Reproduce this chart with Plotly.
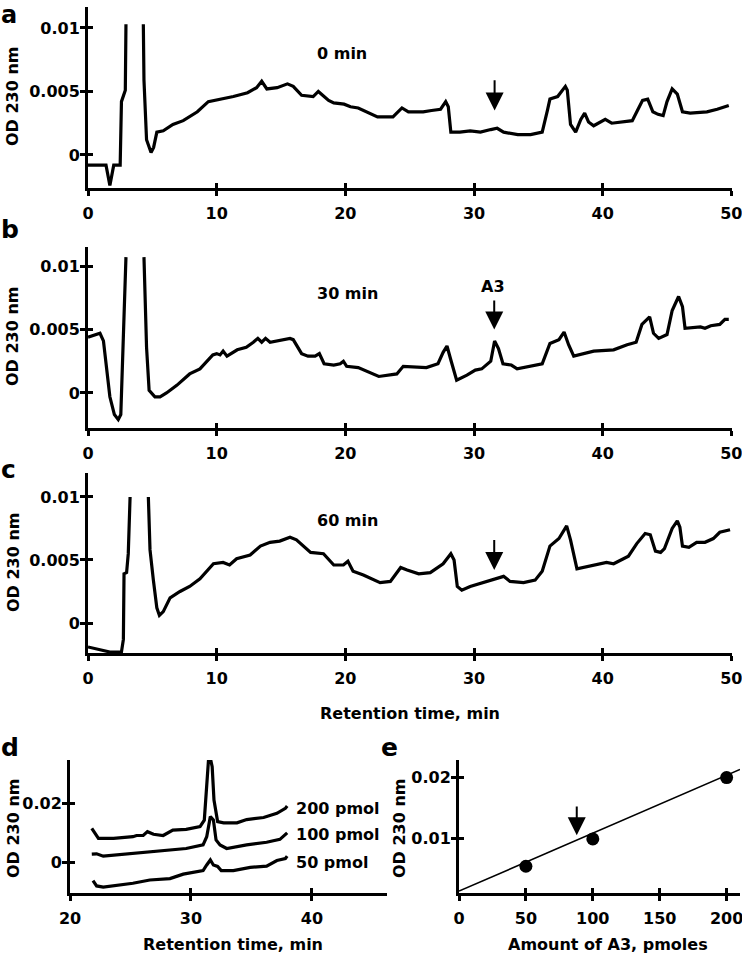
import plotly.graph_objects as go

W, H = 742, 955

# ---------------- data ----------------
# panel a: 0 min
a_time = [0, 1.4, 1.7, 2.0, 2.5, 2.6, 2.9, 2.95, None, 4.3,
          4.35, 4.55, 4.9, 5.1, 5.35, 5.85, 6.6, 7.4, 8.5, 9.35,
          10.3, 11.3, 12.4, 13.1, 13.5, 13.9, 14.7, 15.5, 15.95, 16.6,
          17.5, 17.9, 18.7, 19.1, 19.9, 20.4, 21.0, 21.9, 22.5, 23.7,
          24.4, 24.9, 26.05, 26.7, 27.4, 27.8, 28.0, 28.2, 28.9, 29.7,
          30.5, 31.3, 31.8, 32.3, 33.4, 34.4, 35.3, 35.7, 35.9, 36.5,
          37.1, 37.25, 37.5, 37.9, 38.3, 38.6, 38.9, 39.3, 40.2, 40.7,
          41.6, 42.3, 42.7, 43.1, 43.5, 43.9, 44.3, 44.7, 45.0, 45.4,
          45.8, 46.2, 46.8, 48.1, 48.9, 49.8]
a_od = [-0.0008, -0.0008, -0.0024, -0.0008, -0.0008, 0.0042, 0.0051, 0.0103, None, 0.0103,
        0.0059, 0.0012, 0.0002, 0.0006, 0.0018, 0.0019, 0.0024, 0.0027, 0.0034, 0.0042,
        0.0044, 0.0046, 0.0049, 0.0053, 0.0058, 0.0052, 0.0053, 0.0056, 0.0054, 0.0047,
        0.0046, 0.0050, 0.0043, 0.0041, 0.0040, 0.0038, 0.0037, 0.0033, 0.0030, 0.0030,
        0.0037, 0.0034, 0.0034, 0.0035, 0.0036, 0.0042, 0.0038, 0.0018, 0.0018, 0.0019,
        0.0018, 0.0020, 0.0021, 0.0018, 0.0016, 0.0016, 0.0018, 0.0035, 0.0044, 0.0046,
        0.0054, 0.0051, 0.0024, 0.0018, 0.0028, 0.0033, 0.0026, 0.0023, 0.0028, 0.0025,
        0.0026, 0.0027, 0.0035, 0.0043, 0.0044, 0.0034, 0.0032, 0.0031, 0.0042, 0.0052,
        0.0048, 0.0034, 0.0033, 0.0034, 0.0036, 0.0039]

# panel b: 30 min
b_time = [0, 0.55, 0.93, 1.2, 1.45, 1.7, 2.05, 2.35, 2.55, 2.7,
          2.8, 2.95, None, 4.35, 4.55, 4.75, 5.2, 5.6, 6.1, 6.9,
          7.9, 8.7, 9.35, 9.7, 10.0, 10.26, 10.5, 10.8, 11.6, 12.3,
          12.85, 13.2, 13.5, 13.8, 14.15, 15.7, 15.95, 16.6, 17.1, 17.65,
          17.98, 18.35, 19.1, 19.6, 19.85, 20.1, 21.0, 21.7, 22.6, 24.0,
          24.5, 26.3, 27.2, 27.6, 27.9, 28.2, 28.65, 29.45, 30.1, 30.6,
          31.3, 31.6, 31.9, 32.25, 32.9, 33.35, 35.3, 35.9, 36.6, 37.0,
          37.35, 37.75, 39.3, 40.85, 41.9, 42.6, 43.05, 43.65, 43.95, 44.35,
          45.0, 45.4, 45.9, 46.2, 46.4, 47.6, 47.95, 48.4, 49.1, 49.5,
          49.8]
b_od = [0.0044, 0.0046, 0.0047, 0.0041, 0.0021, -0.0003, -0.0017, -0.0021, -0.0017, 0.0026,
        0.0047, 0.0107, None, 0.0107, 0.0036, 0.0002, -0.0003, -0.0003, 0.0000, 0.0006,
        0.0015, 0.0019, 0.0026, 0.0030, 0.0031, 0.0030, 0.0033, 0.0029, 0.0034, 0.0036,
        0.0040, 0.0043, 0.0040, 0.0043, 0.0040, 0.0043, 0.0042, 0.0031, 0.0029, 0.0029,
        0.0031, 0.0023, 0.0022, 0.0023, 0.0025, 0.0021, 0.0020, 0.0017, 0.0013, 0.0015,
        0.0021, 0.0020, 0.0023, 0.0032, 0.0037, 0.0026, 0.0010, 0.0014, 0.0018, 0.0019,
        0.0025, 0.0041, 0.0035, 0.0023, 0.0022, 0.0019, 0.0023, 0.0039, 0.0042, 0.0048,
        0.0038, 0.0029, 0.0033, 0.0034, 0.0038, 0.0040, 0.0054, 0.0060, 0.0047, 0.0043,
        0.0046, 0.0065, 0.0076, 0.0068, 0.0051, 0.0052, 0.0051, 0.0053, 0.0054, 0.0058,
        0.0058]

# panel c: 60 min
c_time = [0, 0.93, 1.7, 2.6, 2.75, 2.8, 3.0, 3.13, 3.27, None,
          4.69, 4.82, 5.08, 5.35, 5.55, 5.85, 6.38, 7.15, 7.9, 8.7,
          9.75, 10.5, 11.0, 11.55, 12.6, 13.4, 14.15, 14.9, 15.7, 16.2,
          17.3, 18.3, 19.1, 19.85, 20.2, 20.6, 21.4, 22.7, 23.5, 24.3,
          24.8, 25.7, 26.6, 27.6, 28.2, 28.45, 28.7, 29.05, 29.7, 30.7,
          31.5, 32.3, 32.8, 33.85, 34.75, 35.3, 35.9, 36.6, 37.2, 37.5,
          38.0, 39.3, 40.3, 40.85, 42.0, 42.65, 43.3, 43.7, 44.1, 44.5,
          44.8, 45.4, 45.8, 46.0, 46.2, 46.7, 47.3, 47.95, 48.6, 49.1,
          49.9]
c_od = [-0.0019, -0.0021, -0.0023, -0.0023, -0.0013, 0.0039, 0.0040, 0.0055, 0.0100, None,
        0.0100, 0.0058, 0.0034, 0.0012, 0.0006, 0.0009, 0.0020, 0.0025, 0.0029, 0.0035,
        0.0047, 0.0048, 0.0046, 0.0051, 0.0054, 0.0061, 0.0064, 0.0065, 0.0068, 0.0066,
        0.0056, 0.0055, 0.0046, 0.0046, 0.0049, 0.0041, 0.0038, 0.0032, 0.0033, 0.0044,
        0.0042, 0.0039, 0.0040, 0.0047, 0.0055, 0.0050, 0.0029, 0.0026, 0.0029, 0.0032,
        0.0034, 0.0037, 0.0033, 0.0032, 0.0034, 0.0041, 0.0061, 0.0067, 0.0077, 0.0066,
        0.0043, 0.0046, 0.0048, 0.0047, 0.0053, 0.0063, 0.0071, 0.0070, 0.0057, 0.0056,
        0.0059, 0.0075, 0.0081, 0.0076, 0.0061, 0.0060, 0.0064, 0.0064, 0.0067, 0.0072,
        0.0074]

# panel d: standards
d_time_200 = [21.8, 22.07, 22.35, 23.6, 25.2, 25.5, 26.05, 26.4, 26.9, 27.7, 28.5, 29.6, 30.75,
              31.1, 31.3, 31.45, 31.6, 31.75, 31.9, 32.2, 32.7, 33.8, 34.6, 36.0, 37.1, 37.8, 37.95]
d_od_200 = [0.0114, 0.0095, 0.0080, 0.0080, 0.0086, 0.0090, 0.0090, 0.0103, 0.0094, 0.0090, 0.0108, 0.0111, 0.0120,
            0.0142, 0.0278, 0.0348, 0.0352, 0.0323, 0.0210, 0.0137, 0.0133, 0.0133, 0.0144, 0.0151, 0.0165, 0.0182, 0.0190]
d_time_100 = [21.8, 22.2, 22.75, 23.3, 25.2, 27.4, 29.6, 31.0, 31.3, 31.6, 31.85, 32.07, 32.4,
              32.95, 34.6, 36.25, 37.35, 37.95]
d_od_100 = [0.0027, 0.0028, 0.0020, 0.0022, 0.0028, 0.0038, 0.0046, 0.0058, 0.0086, 0.0154, 0.0143, 0.0075, 0.0058,
            0.0046, 0.0058, 0.0067, 0.0077, 0.0099]
d_time_50 = [21.9, 22.2, 22.75, 25.2, 26.6, 28.26, 29.36, 31.0, 31.3, 31.6, 31.85, 32.2, 32.5,
             33.5, 34.9, 36.25, 37.1, 37.8, 37.95]
d_od_50 = [-0.0063, -0.0081, -0.0085, -0.0072, -0.0061, -0.0056, -0.0041, -0.0029, -0.0010, 0.0007, -0.0010, -0.0015, -0.0029,
           -0.0029, -0.0018, -0.0014, 0.0005, 0.0012, 0.0020]
d_labels = ["200 pmol", "100 pmol", "50 pmol"]
d_label_od = [0.0183, 0.0092, 0.0000]

# panel e: calibration
e_amount = [50, 100, 200]
e_od = [0.0054, 0.0099, 0.0200]
e_fit_slope = 0.0000955
e_fit_intercept = 0.0013
e_fit_x = [0, 210]

# ticks
abc_xticks = [0, 10, 20, 30, 40, 50]
abc_yticks = [0, 0.005, 0.01]
abc_yticktext = ["0", "0.005", "0.01"]
d_xticks = [20, 30, 40]
d_yticks = [0, 0.02]
d_yticktext = ["0", "0.02"]
e_xticks = [0, 50, 100, 150, 200]
e_yticks = [0.01, 0.02]
e_yticktext = ["0.01", "0.02"]

# ---------------- layout helpers ----------------
FONT = "DejaVu Sans"


def px_x(p):
    return p / W


def px_y(p):
    return 1 - p / H


tickfont = dict(family=FONT, size=16, color="black", weight="bold")


def base_axis(dom, rng, tickvals, ticktext=None, anchor=None, standoff=0):
    d = dict(domain=dom, range=rng, showline=True, linecolor="black", linewidth=3,
             ticks="outside", ticklen=5, tickwidth=3, tickcolor="black",
             showgrid=False, zeroline=False, tickfont=tickfont, fixedrange=True,
             tickvals=tickvals, anchor=anchor, automargin=False,
             ticklabelstandoff=standoff, ticklabeloverflow="allow")
    if ticktext is not None:
        d["ticktext"] = ticktext
    return d


def overlay_axis(dom, rng, tickvals, over, anchor):
    return dict(domain=dom, range=rng, showline=False, ticks="inside", ticklen=5,
                tickwidth=3, tickcolor="black", showgrid=False, zeroline=False,
                showticklabels=False, tickvals=tickvals, overlaying=over,
                anchor=anchor, fixedrange=True, automargin=False)


panels = {
    # name: (x px left, x px right, y px top, y px bottom, xrange, yrange)
    "a": (88, 732, 7, 188, [0, 50.05], [-0.0026, 0.01165]),
    "b": (88, 732, 247, 428, [0, 50.05], [-0.00276, 0.0115]),
    "c": (88, 732, 473, 653, [0, 50.05], [-0.00238, 0.0119]),
    "d": (70, 387, 760, 893, [20, 46.2], [-0.0105, 0.0346]),
    "e": (459, 740, 760, 893, [0, 210], [0.00099, 0.0229]),
}
xt = {"a": (abc_xticks, None), "b": (abc_xticks, None), "c": (abc_xticks, None),
      "d": (d_xticks, None), "e": (e_xticks, None)}
yt = {"a": (abc_yticks, abc_yticktext), "b": (abc_yticks, abc_yticktext),
      "c": (abc_yticks, abc_yticktext), "d": (d_yticks, d_yticktext),
      "e": (e_yticks, e_yticktext)}

layout = dict(width=W, height=H, margin=dict(l=0, r=0, t=0, b=0, autoexpand=False),
              paper_bgcolor="white", plot_bgcolor="white", showlegend=False,
              font=dict(family=FONT, size=16, color="black"))

fig = go.Figure()
for i, name in enumerate(["a", "b", "c", "d", "e"]):
    xl, xr, yt_, yb, xrng, yrng = panels[name]
    xd = [px_x(xl), px_x(xr)]
    yd = [px_y(yb), px_y(yt_)]
    n = i + 1
    m = i + 6
    xs = "" if n == 1 else str(n)
    layout["xaxis" + xs] = base_axis(xd, xrng, xt[name][0], xt[name][1], anchor="y" + xs, standoff=4)
    layout["yaxis" + xs] = base_axis(yd, yrng, yt[name][0], yt[name][1], anchor="x" + xs, standoff=-3)
    layout["xaxis" + str(m)] = overlay_axis(xd, xrng, xt[name][0], "x" + xs, "y" + str(m))
    layout["yaxis" + str(m)] = overlay_axis(yd, yrng, yt[name][0], "y" + xs, "x" + str(m))
    fig.add_trace(go.Scatter(x=[], y=[], xaxis="x" + str(m), yaxis="y" + str(m),
                             mode="lines", hoverinfo="skip"))

line_style = dict(color="black", width=3.2)
fig.add_trace(go.Scatter(x=a_time, y=a_od, mode="lines", line=line_style, xaxis="x", yaxis="y", connectgaps=False))
fig.add_trace(go.Scatter(x=b_time, y=b_od, mode="lines", line=line_style, xaxis="x2", yaxis="y2", connectgaps=False))
fig.add_trace(go.Scatter(x=c_time, y=c_od, mode="lines", line=line_style, xaxis="x3", yaxis="y3", connectgaps=False))
for tx, ty in [(d_time_200, d_od_200), (d_time_100, d_od_100), (d_time_50, d_od_50)]:
    fig.add_trace(go.Scatter(x=tx, y=ty, mode="lines", line=line_style, xaxis="x4", yaxis="y4"))
fit_y = [e_fit_intercept + e_fit_slope * v for v in e_fit_x]
fig.add_trace(go.Scatter(x=e_fit_x, y=fit_y, mode="lines", line=dict(color="black", width=1.6),
                         xaxis="x5", yaxis="y5"))
fig.add_trace(go.Scatter(x=e_amount, y=e_od, mode="markers", marker=dict(color="black", size=13),
                         xaxis="x5", yaxis="y5", cliponaxis=False))

ann = []


def text_ann(text, x, y, xref, yref, xanchor="center", yanchor="middle", size=16, angle=0):
    ann.append(dict(text=text, x=x, y=y, xref=xref, yref=yref, xanchor=xanchor, yanchor=yanchor,
                    showarrow=False, textangle=angle, borderpad=0,
                    font=dict(family=FONT, size=size, color="black", weight="bold")))


def arrow_ann(x, y_tip, y_tail, xref, yref):
    ann.append(dict(text="", x=x, y=y_tip, ax=x, ay=y_tail, xref=xref, yref=yref,
                    axref=xref, ayref=yref, showarrow=True, arrowhead=2, arrowsize=1.8,
                    arrowwidth=2, arrowcolor="black"))


# in-plot labels
text_ann("0 min", 19.75, 0.0080, "x", "y")
text_ann("30 min", 20.2, 0.0078, "x2", "y2")
text_ann("60 min", 20.2, 0.0081, "x3", "y3")
text_ann("A3", 31.5, 0.0084, "x2", "y2")
arrow_ann(31.6, 0.0035, 0.0060, "x", "y")
arrow_ann(31.57, 0.0050, 0.0074, "x2", "y2")
arrow_ann(31.57, 0.0042, 0.0067, "x3", "y3")
arrow_ann(88, 0.0105, 0.0155, "x5", "y5")
for lab, v in zip(d_labels, d_label_od):
    text_ann(lab, 38.6, v, "x4", "y4", xanchor="left")

# panel letters
text_ann("a", 0, 1, "paper", "paper", xanchor="left", yanchor="top", size=24)
for letter, xp, yp in [("b", 0, 229), ("c", 0, 469), ("d", 0, 747), ("e", 380, 747)]:
    text_ann(letter, px_x(xp), px_y(yp), "paper", "paper", xanchor="left", size=25)

# axis titles
for yc in [97, 337, 563, 829]:
    text_ann("OD 230 nm", px_x(13), px_y(yc), "paper", "paper", angle=-90)
text_ann("OD 230 nm", px_x(399), px_y(829), "paper", "paper", angle=-90)
text_ann("Retention time, min", px_x(410), px_y(713), "paper", "paper")
text_ann("Retention time, min", px_x(233), px_y(944), "paper", "paper")
text_ann("Amount of A3, pmoles", px_x(608), px_y(944), "paper", "paper")

layout["annotations"] = ann
fig.update_layout(**layout)
fig.write_html("out.html", config={"displayModeBar": False},
               post_script="document.body.style.margin='0';document.body.style.overflow='hidden';")
